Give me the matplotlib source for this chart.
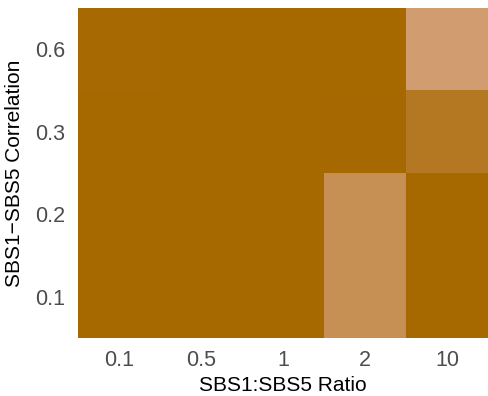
import matplotlib
matplotlib.use("Agg")
import matplotlib.pyplot as plt
import numpy as np
from matplotlib.colors import LinearSegmentedColormap

ratios = ["0.1", "0.5", "1", "2", "10"]
correlations = ["0.1", "0.2", "0.3", "0.6"]
# rows: correlations (bottom to top), columns: ratios
values = np.array([
    [0.00, 0.00, 0.00, 0.75, 0.00],   # 0.1
    [0.00, 0.00, 0.00, 0.75, 0.00],   # 0.2
    [0.00, 0.00, 0.00, 0.01, 0.30],   # 0.3
    [0.03, 0.00, 0.00, 0.00, 1.00],   # 0.6
])

plt.rcParams['font.family'] = ['Liberation Sans', 'DejaVu Sans']
cmap = LinearSegmentedColormap.from_list("orng", ["#A66900", "#D09C70"])

fig = plt.figure(figsize=(4.88, 3.96), dpi=100)
ax = fig.add_axes([78/488, (396-338)/396, 410/488, 330/396])
ax.pcolormesh(np.arange(len(ratios)+1), np.arange(len(correlations)+1), values,
              cmap=cmap, vmin=0, vmax=1, shading='flat')
ax.set_xticks(np.arange(len(ratios)) + 0.5)
ax.set_xticklabels(ratios)
ax.set_yticks(np.arange(len(correlations)) + 0.5)
ax.set_yticklabels(correlations)
ax.tick_params(length=0, labelsize=15.5, colors="#4D4D4D", pad=9)
for s in ax.spines.values():
    s.set_visible(False)
ax.set_xlabel("SBS1:SBS5 Ratio", fontsize=15, color="black", labelpad=3)
ax.set_ylabel("SBS1\u2212SBS5 Correlation", fontsize=15, color="black", labelpad=8)
fig.savefig("out.png", dpi=100)
